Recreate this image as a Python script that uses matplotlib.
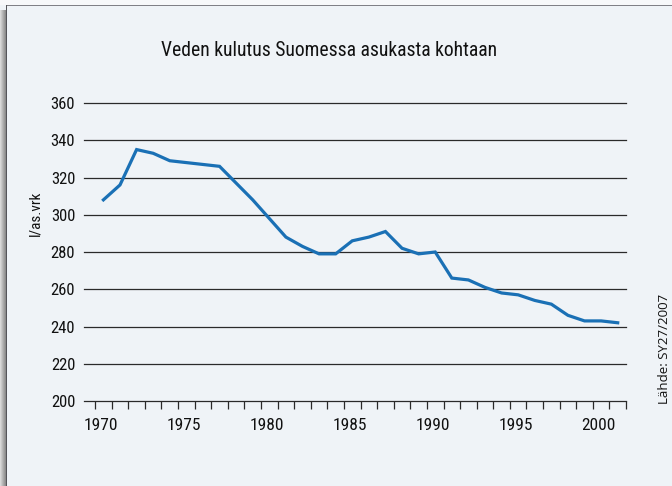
import numpy as np
import matplotlib
matplotlib.use('Agg')
import matplotlib.pyplot as plt
import matplotlib.transforms as mtransforms
from matplotlib import font_manager
from matplotlib.patches import Rectangle

years = list(range(1970, 2002))
kulutus = [308, 316, 335, 333, 329, 328, 327, 326, 317, 308,
           298, 288, 283, 279, 279, 286, 288, 291, 282, 279,
           280, 266, 265, 261, 258, 257, 254, 252, 246, 243,
           243, 242]
y_ticks = [200, 220, 240, 260, 280, 300, 320, 340, 360]
x_labels = [1970, 1975, 1980, 1985, 1990, 1995, 2000]

title = 'Veden kulutus Suomessa asukasta kohtaan'
ylab = 'l/as.vrk'
source = 'Lähde: SY27/2007'

# look for a narrow face, the original uses a condensed sans
fonts = font_manager.fontManager.ttflist
names = {f.name for f in fonts}
narrow = None
for cand in ['Roboto Condensed', 'Liberation Sans Narrow', 'Open Sans Condensed',
             'DejaVu Sans Condensed', 'Noto Sans Condensed']:
    if cand in names:
        narrow = cand
        break
stretch = 'normal'
if narrow is None:
    if any(f.name == 'DejaVu Sans' and f.stretch != 'normal' for f in fonts):
        narrow, stretch = 'DejaVu Sans', 'condensed'
    else:
        narrow = 'Roboto' if 'Roboto' in names else 'DejaVu Sans'
plt.rcParams['font.family'] = [narrow, 'DejaVu Sans']
plt.rcParams['font.stretch'] = stretch

W, H = 672, 486
fig = plt.figure(figsize=(W/100, H/100), dpi=100)
fig.patch.set_facecolor('#eff3f7')

# frame: light strip on top, dark lines at top/left and a soft shadow on the left
fig.patches.append(Rectangle((0, 1-5/H), 1, 5/H, transform=fig.transFigure,
                             facecolor='#f7f8fa', edgecolor='none', zorder=0))
fig.patches.append(Rectangle((6/W, 1-6.5/H), 1, 1.5/H, transform=fig.transFigure,
                             facecolor='#808086', edgecolor='none', zorder=1))
fig.patches.append(Rectangle((6/W, 0), 1.5/W, 1-5/H, transform=fig.transFigure,
                             facecolor='#55555a', edgecolor='none', zorder=1))
sh = fig.add_axes([0, 0, 6/W, 1-10/H])
sh.imshow(np.linspace(0.85, 0.55, 6)[None, :], cmap='gray', vmin=0, vmax=1,
          aspect='auto', interpolation='bilinear')
sh.axis('off')

ax = fig.add_axes([83.5/W, 1-401/H, (626-83.5)/W, (401-103)/H])
ax.set_facecolor('none')
x = np.array(years) + 0.5
ax.plot(x, kulutus, color='#1a70b5', linewidth=2.3, solid_joinstyle='miter', zorder=3)

ax.set_xlim(1969.3, 2002.0)
ax.set_ylim(200, 360)
for s in ax.spines.values():
    s.set_visible(False)

ax.set_yticks(y_ticks)
ax.tick_params(axis='y', length=0, pad=6, labelsize=12, labelcolor='#111111')
ax.grid(axis='y', color='#2a2a2a', linewidth=0.9)
for gl in ax.get_ygridlines():
    gl.set_clip_on(False)

ax.set_xticks(x_labels)
ax.set_xticks(range(1970, 2003), minor=True)
ax.tick_params(axis='x', which='both', length=5.5, width=0.9, color='#2a2a2a',
               direction='out', pad=7, labelsize=12.5, labelcolor='#111111')
off = mtransforms.ScaledTranslation(6/100, 0, fig.dpi_scale_trans)
for lb in ax.get_xticklabels():
    lb.set_transform(lb.get_transform() + off)

t = fig.text(329/W, 1-51/H, title, ha='center', va='center', fontsize=15, color='#111111')
# size the title so it spans about the same width as in the original (~338 px)
r = fig.canvas.get_renderer()
wpx = t.get_window_extent(r).width
t.set_fontsize(min(19, 15 * 338 / wpx))

fig.text(35/W, 1-213/H, ylab, ha='center', va='center', rotation=90,
         fontsize=11, color='#111111')
fig.text(664/W, 1-349/H, source, ha='center', va='center', rotation=90,
         fontsize=9.5, color='#111111', family=['Open Sans', 'DejaVu Sans'])

fig.savefig('out.png', dpi=100, facecolor=fig.get_facecolor())
